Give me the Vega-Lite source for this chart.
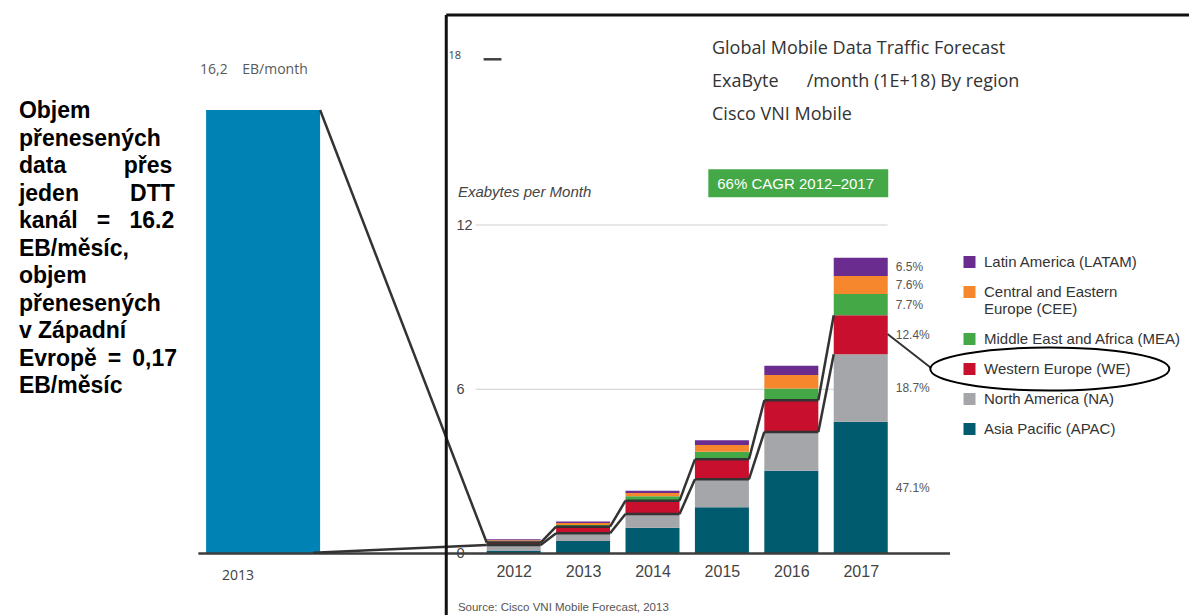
{
  "$schema": "https://vega.github.io/schema/vega-lite/v6.json",
  "width": 1189,
  "height": 615,
  "autosize": "none",
  "padding": 0,
  "background": "white",
  "config": {"view": {"stroke": null}},
  "datasets": {
    "one": [{}],
    "dtt": [{"year": 2013, "value": 16.2, "series": "DTT kanál"}]
  },
  "data": {
    "values": [
      {"year": 2012, "region": "Asia Pacific (APAC)", "value": 0.09},
      {"year": 2012, "region": "North America (NA)", "value": 0.22},
      {"year": 2012, "region": "Western Europe (WE)", "value": 0.09},
      {"year": 2012, "region": "Middle East and Africa (MEA)", "value": 0.04},
      {"year": 2012, "region": "Central and Eastern Europe (CEE)", "value": 0.04},
      {"year": 2012, "region": "Latin America (LATAM)", "value": 0.04},
      {"year": 2013, "region": "Asia Pacific (APAC)", "value": 0.46},
      {"year": 2013, "region": "North America (NA)", "value": 0.28},
      {"year": 2013, "region": "Western Europe (WE)", "value": 0.24},
      {"year": 2013, "region": "Middle East and Africa (MEA)", "value": 0.06},
      {"year": 2013, "region": "Central and Eastern Europe (CEE)", "value": 0.07},
      {"year": 2013, "region": "Latin America (LATAM)", "value": 0.06},
      {"year": 2014, "region": "Asia Pacific (APAC)", "value": 0.94},
      {"year": 2014, "region": "North America (NA)", "value": 0.50},
      {"year": 2014, "region": "Western Europe (WE)", "value": 0.49},
      {"year": 2014, "region": "Middle East and Africa (MEA)", "value": 0.16},
      {"year": 2014, "region": "Central and Eastern Europe (CEE)", "value": 0.12},
      {"year": 2014, "region": "Latin America (LATAM)", "value": 0.08},
      {"year": 2015, "region": "Asia Pacific (APAC)", "value": 1.69},
      {"year": 2015, "region": "North America (NA)", "value": 1.02},
      {"year": 2015, "region": "Western Europe (WE)", "value": 0.73},
      {"year": 2015, "region": "Middle East and Africa (MEA)", "value": 0.28},
      {"year": 2015, "region": "Central and Eastern Europe (CEE)", "value": 0.24},
      {"year": 2015, "region": "Latin America (LATAM)", "value": 0.18},
      {"year": 2016, "region": "Asia Pacific (APAC)", "value": 3.02},
      {"year": 2016, "region": "North America (NA)", "value": 1.42},
      {"year": 2016, "region": "Western Europe (WE)", "value": 1.16},
      {"year": 2016, "region": "Middle East and Africa (MEA)", "value": 0.43},
      {"year": 2016, "region": "Central and Eastern Europe (CEE)", "value": 0.49},
      {"year": 2016, "region": "Latin America (LATAM)", "value": 0.34},
      {"year": 2017, "region": "Asia Pacific (APAC)", "value": 4.81, "share": 0.471},
      {"year": 2017, "region": "North America (NA)", "value": 2.47, "share": 0.187},
      {"year": 2017, "region": "Western Europe (WE)", "value": 1.42, "share": 0.124},
      {"year": 2017, "region": "Middle East and Africa (MEA)", "value": 0.78, "share": 0.077},
      {"year": 2017, "region": "Central and Eastern Europe (CEE)", "value": 0.66, "share": 0.076},
      {"year": 2017, "region": "Latin America (LATAM)", "value": 0.66, "share": 0.065}
    ]
  },
  "transform": [{"stack": "value", "groupby": ["year"], "as": ["lo", "hi"]}],
  "layer": [
    {
      "data": {"values": [{"tick": 6}, {"tick": 12}]},
      "mark": {"type": "rule", "color": "#cfcfcf", "strokeWidth": 1},
      "encoding": {
        "x": {"datum": 2011.45, "type": "quantitative"},
        "x2": {"datum": 2017.386},
        "y": {"field": "tick", "type": "quantitative"}
      }
    },
    {
      "data": {"name": "dtt"},
      "mark": {"type": "bar", "width": 114, "xOffset": -320, "color": "#0083b4", "orient": "vertical"},
      "encoding": {
        "x": {"field": "year", "type": "quantitative"},
        "y": {"field": "value", "type": "quantitative"}
      }
    },
    {
      "mark": {"type": "bar", "width": 54},
      "encoding": {
        "x": {
          "field": "year", "type": "quantitative",
          "scale": {"domain": [2004.67143, 2021.65714], "nice": false, "zero": false},
          "axis": {"orient": "bottom", "offset": -61.5, "values": [2012, 2013, 2014, 2015, 2016, 2017], "format": "d", "title": null, "domain": false, "ticks": false, "tickSize": 0, "grid": false, "labelFontSize": 16, "labelFont": "Liberation Sans", "labelColor": "#444444", "labelPadding": 10, "labelFlush": false, "labelOverlap": false}
        },
        "y": {
          "field": "lo", "type": "quantitative",
          "scale": {"domain": [-2.2466, 20.2192], "nice": false, "zero": false},
          "axis": {"orient": "left", "offset": -456, "values": [0, 6, 12], "title": null, "domain": false, "ticks": false, "tickSize": 0, "grid": false, "labelAlign": "left", "labelBaseline": "middle", "labelPadding": 0, "labelFontSize": 14.5, "labelFont": "Liberation Sans", "labelColor": "#444444", "labelOverlap": false}
        },
        "y2": {"field": "hi"},
        "color": {
          "field": "region", "type": "nominal",
          "scale": {
            "domain": ["Latin America (LATAM)", "Central and Eastern Europe (CEE)", "Middle East and Africa (MEA)", "Western Europe (WE)", "North America (NA)", "Asia Pacific (APAC)"],
            "range": ["#6a2c8f", "#f6872c", "#45a847", "#c8102e", "#a5a6a9", "#005b6e"]
          },
          "legend": {
            "orient": "none", "legendX": 962, "legendY": 254.5, "title": null, "padding": 0,
            "symbolType": "square", "symbolSize": 144, "symbolStrokeWidth": 0, "symbolOpacity": 1,
            "labelFont": "Liberation Sans", "labelFontSize": 15, "labelColor": "#333333", "labelOffset": 7,
            "labelLimit": 300, "labelLineHeight": 16, "rowPadding": 14,
            "labelExpr": "datum.label == 'Central and Eastern Europe (CEE)' ? ['Central and Eastern', 'Europe (CEE)'] : datum.label"
          }
        }
      }
    },
    {
      "data": {"name": "one"},
      "mark": {"type": "rule", "color": "#3d3d3d", "strokeWidth": 2.5},
      "encoding": {
        "x": {"datum": 2007.457, "type": "quantitative"},
        "x2": {"datum": 2018.286},
        "y": {"datum": 0, "type": "quantitative"}
      }
    },
    {
      "transform": [
        {"filter": "datum.region == 'Western Europe (WE)' && datum.year < 2017"},
        {"fold": ["lo", "hi"], "as": ["edge", "level"]}
      ],
      "mark": {"type": "rule", "color": "#333333", "strokeWidth": 2.5, "xOffset": -27, "x2Offset": 27},
      "encoding": {
        "x": {"field": "year", "type": "quantitative"},
        "x2": {"field": "year"},
        "y": {"field": "level", "type": "quantitative"}
      }
    },
    {
      "transform": [
        {"filter": "datum.region == 'Western Europe (WE)'"},
        {"fold": ["lo", "hi"], "as": ["edge", "level"]},
        {"window": [{"op": "lead", "field": "year", "as": "next_year"}, {"op": "lead", "field": "level", "as": "next_level"}], "groupby": ["edge"], "sort": [{"field": "year"}]},
        {"filter": "datum.next_year != null"}
      ],
      "mark": {"type": "rule", "color": "#333333", "strokeWidth": 2.5, "xOffset": 27, "x2Offset": -27},
      "encoding": {
        "x": {"field": "year", "type": "quantitative"},
        "x2": {"field": "next_year"},
        "y": {"field": "level", "type": "quantitative"},
        "y2": {"field": "next_level"}
      }
    },
    {
      "data": {"name": "one"},
      "mark": {"type": "rule", "color": "#333333", "strokeWidth": 2.5, "xOffset": -263, "x2Offset": -27},
      "encoding": {
        "x": {"datum": 2013, "type": "quantitative"},
        "x2": {"datum": 2012},
        "y": {"datum": 16.2, "type": "quantitative"},
        "y2": {"datum": 0.4}
      }
    },
    {
      "data": {"name": "one"},
      "mark": {"type": "rule", "color": "#333333", "strokeWidth": 2.5, "xOffset": -270, "x2Offset": -27},
      "encoding": {
        "x": {"datum": 2013, "type": "quantitative"},
        "x2": {"datum": 2012},
        "y": {"datum": 0.03, "type": "quantitative"},
        "y2": {"datum": 0.31}
      }
    },
    {
      "data": {"name": "one"},
      "mark": {"type": "rule", "color": "#333333", "strokeWidth": 2},
      "encoding": {
        "x": {"datum": 2017.3857, "type": "quantitative"},
        "x2": {"datum": 2018.0143},
        "y": {"datum": 8.018, "type": "quantitative"},
        "y2": {"datum": 6.776}
      }
    },
    {
      "data": {"name": "one"},
      "mark": {"type": "point", "shape": "M-1,0A1,0.18,0,1,1,1,0A1,0.18,0,1,1,-1,0Z", "size": 57121, "filled": false, "stroke": "#000000", "strokeWidth": 2, "opacity": 1},
      "encoding": {
        "x": {"datum": 2019.724, "type": "quantitative"},
        "y": {"datum": 6.74, "type": "quantitative"}
      }
    },
    {
      "transform": [
        {"filter": "datum.year == 2017"},
        {"fold": ["lo", "hi"], "as": ["edge", "level"]},
        {"aggregate": [{"op": "mean", "field": "level", "as": "mid"}], "groupby": ["year", "region", "share"]}
      ],
      "mark": {"type": "text", "align": "left", "baseline": "middle", "xOffset": 35, "font": "Liberation Sans", "fontSize": 12, "color": "#555555"},
      "encoding": {
        "x": {"field": "year", "type": "quantitative"},
        "y": {"field": "mid", "type": "quantitative"},
        "text": {"field": "share", "type": "quantitative", "format": ".1%"}
      }
    },
    {
      "data": {"name": "dtt"},
      "mark": {"type": "text", "align": "left", "baseline": "middle", "xOffset": -383, "yOffset": -40, "font": "Open Sans", "fontSize": 14, "color": "#595959", "text": "16,2\u00a0\u00a0\u00a0\u00a0EB/month"},
      "encoding": {
        "x": {"field": "year", "type": "quantitative"},
        "y": {"field": "value", "type": "quantitative"}
      }
    },
    {
      "data": {"name": "dtt"},
      "mark": {"type": "text", "align": "center", "baseline": "middle", "xOffset": -345, "yOffset": 23, "font": "Open Sans", "fontSize": 14, "color": "#404040"},
      "encoding": {
        "x": {"field": "year", "type": "quantitative"},
        "y": {"datum": 0, "type": "quantitative"},
        "text": {"field": "year", "type": "quantitative", "format": "d"}
      }
    },
    {
      "data": {"name": "one"},
      "mark": {
        "type": "text", "align": "left", "baseline": "alphabetic", "font": "Liberation Sans", "fontWeight": "bold", "fontSize": 23, "lineHeight": 27.5, "color": "#000000",
        "text": ["Objem", "přenesených", "data\u00a0\u00a0\u00a0\u00a0\u00a0\u00a0\u00a0\u00a0\u00a0přes", "jeden\u00a0\u00a0\u00a0\u00a0\u00a0\u00a0\u00a0\u00a0DTT", "kanál\u00a0\u00a0\u00a0=\u00a0\u00a0\u00a016.2", "EB/měsíc,", "objem", "přenesených", "v Západní", "Evropě\u00a0\u2009=\u00a0\u20090,17", "EB/měsíc"]
      },
      "encoding": {
        "x": {"datum": 2004.8714, "type": "quantitative"},
        "y": {"datum": 15.898, "type": "quantitative"}
      }
    },
    {
      "data": {"name": "one"},
      "mark": {
        "type": "text", "align": "left", "baseline": "alphabetic", "font": "Open Sans", "fontSize": 18, "lineHeight": 33, "color": "#333333",
        "text": ["Global Mobile Data Traffic Forecast", "ExaByte\u00a0\u00a0\u00a0\u00a0\u00a0\u00a0/month (1E+18) By region", "Cisco VNI Mobile"]
      },
      "encoding": {
        "x": {"datum": 2014.857, "type": "quantitative"},
        "y": {"datum": 18.232, "type": "quantitative"}
      }
    },
    {
      "data": {"name": "one"},
      "mark": {"type": "rect", "color": "#44a847"},
      "encoding": {
        "x": {"datum": 2014.804, "type": "quantitative"},
        "x2": {"datum": 2017.396},
        "y": {"datum": 14.035, "type": "quantitative"},
        "y2": {"datum": 13.012}
      }
    },
    {
      "data": {"name": "one"},
      "mark": {"type": "text", "align": "left", "baseline": "middle", "font": "Liberation Sans", "fontSize": 15, "color": "#ffffff", "text": "66% CAGR 2012–2017"},
      "encoding": {
        "x": {"datum": 2014.933, "type": "quantitative"},
        "y": {"datum": 13.498, "type": "quantitative"}
      }
    },
    {
      "data": {"name": "one"},
      "mark": {"type": "text", "align": "left", "baseline": "middle", "font": "Liberation Sans", "fontStyle": "italic", "fontSize": 15, "color": "#444444", "text": "Exabytes per Month"},
      "encoding": {
        "x": {"datum": 2011.196, "type": "quantitative"},
        "y": {"datum": 13.217, "type": "quantitative"}
      }
    },
    {
      "data": {"name": "one"},
      "mark": {"type": "text", "align": "left", "baseline": "middle", "font": "Open Sans", "fontSize": 11, "color": "#404040", "text": "18"},
      "encoding": {
        "x": {"datum": 2011.0614, "type": "quantitative"},
        "y": {"datum": 18.174, "type": "quantitative"}
      }
    },
    {
      "data": {"name": "one"},
      "mark": {"type": "rule", "color": "#404040", "strokeWidth": 2.5},
      "encoding": {
        "x": {"datum": 2011.567, "type": "quantitative"},
        "x2": {"datum": 2011.824},
        "y": {"datum": 18.053, "type": "quantitative"}
      }
    },
    {
      "data": {"name": "one"},
      "mark": {"type": "text", "align": "left", "baseline": "alphabetic", "font": "Liberation Sans", "fontSize": 11.5, "color": "#555555", "text": "Source: Cisco VNI Mobile Forecast, 2013"},
      "encoding": {
        "x": {"datum": 2011.196, "type": "quantitative"},
        "y": {"datum": -2.1005, "type": "quantitative"}
      }
    },
    {
      "data": {"name": "one"},
      "mark": {"type": "rule", "color": "#111111", "strokeWidth": 3},
      "encoding": {
        "x": {"datum": 2011.0286, "type": "quantitative"},
        "y": {"datum": 19.6712, "type": "quantitative"},
        "y2": {"datum": -2.5}
      }
    },
    {
      "data": {"name": "one"},
      "mark": {"type": "rule", "color": "#111111", "strokeWidth": 3},
      "encoding": {
        "x": {"datum": 2011.0286, "type": "quantitative"},
        "x2": {"datum": 2021.8},
        "y": {"datum": 19.6712, "type": "quantitative"}
      }
    }
  ]
}
